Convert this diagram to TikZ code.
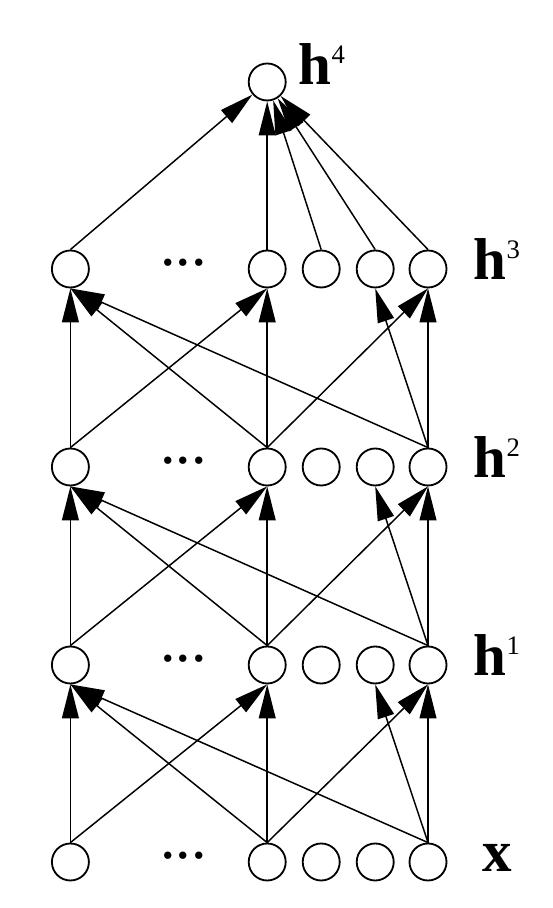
\documentclass[tikz,border=0pt]{standalone}
\usepackage{fontspec}
\setmainfont{Liberation Serif}
\usetikzlibrary{arrows.meta}

\newcommand{\hsup}[1]{h\raisebox{15.6pt}{\fontsize{19}{19}\mdseries\selectfont #1}}

\begin{document}
\begin{tikzpicture}[line width=1.05pt, >={Triangle[length=0.85cm, width=0.42cm]}]

  \tikzstyle{unit}=[draw, circle, line width=1.3pt, minimum size=0.925cm, inner sep=0pt]
  \tikzstyle{lab}=[inner sep=0pt, anchor=base west, font=\fontsize{42}{42}\selectfont\bfseries]
  \tikzstyle{dots}=[inner sep=0pt, anchor=base, font=\fontsize{44}{44}\selectfont]

  \useasboundingbox (0,0) rectangle (13.8,22.7);

  % input layer
  \node[unit] (x1) at (1.76,1.15) {};
  \node[unit] (x2) at (6.68,1.15) {};
  \node[unit] (x3) at (8.03,1.15) {};
  \node[unit] (x4) at (9.38,1.15) {};
  \node[unit] (x5) at (10.70,1.15) {};
  \node[dots] (dx) at (4.59,1.24) {...};
  \node[lab] (lx) at (12.05,0.9) {x};

  % first hidden layer
  \node[unit] (h11) at (1.76,6.075) {};
  \node[unit] (h12) at (6.68,6.075) {};
  \node[unit] (h13) at (8.03,6.075) {};
  \node[unit] (h14) at (9.38,6.075) {};
  \node[unit] (h15) at (10.70,6.075) {};
  \node[dots] (d1) at (4.59,6.165) {...};
  \node[lab] (l1) at (11.825,5.8) {\hsup{1}};

  % second hidden layer
  \node[unit] (h21) at (1.76,11.025) {};
  \node[unit] (h22) at (6.68,11.025) {};
  \node[unit] (h23) at (8.03,11.025) {};
  \node[unit] (h24) at (9.38,11.025) {};
  \node[unit] (h25) at (10.70,11.025) {};
  \node[dots] (d2) at (4.59,11.115) {...};
  \node[lab] (l2) at (11.825,10.75) {\hsup{2}};

  % third hidden layer
  \node[unit] (h31) at (1.76,15.975) {};
  \node[unit] (h32) at (6.68,15.975) {};
  \node[unit] (h33) at (8.03,15.975) {};
  \node[unit] (h34) at (9.38,15.975) {};
  \node[unit] (h35) at (10.70,15.975) {};
  \node[dots] (d3) at (4.59,16.065) {...};
  \node[lab] (l3) at (11.825,15.7) {\hsup{3}};

  % top unit
  \node[unit] (h4) at (6.68,20.65) {};
  \node[lab] (l4) at (7.45,20.575) {\hsup{4}};

  % x -> h1
  \draw[->] (x1.north) -- (h11.south);
  \draw[->] (x1.north) -- (h12.south);
  \draw[->] (x2.north) -- (h11.south);
  \draw[->] (x2.north) -- (h12.south);
  \draw[->] (x2.north) -- (h15.south);
  \draw[->] (x5.north) -- (h11.south);
  \draw[->] (x5.north) -- (h14.south);
  \draw[->] (x5.north) -- (h15.south);

  % h1 -> h2
  \draw[->] (h11.north) -- (h21.south);
  \draw[->] (h11.north) -- (h22.south);
  \draw[->] (h12.north) -- (h21.south);
  \draw[->] (h12.north) -- (h22.south);
  \draw[->] (h12.north) -- (h25.south);
  \draw[->] (h15.north) -- (h21.south);
  \draw[->] (h15.north) -- (h24.south);
  \draw[->] (h15.north) -- (h25.south);

  % h2 -> h3
  \draw[->] (h21.north) -- (h31.south);
  \draw[->] (h21.north) -- (h32.south);
  \draw[->] (h22.north) -- (h31.south);
  \draw[->] (h22.north) -- (h32.south);
  \draw[->] (h22.north) -- (h35.south);
  \draw[->] (h25.north) -- (h31.south);
  \draw[->] (h25.north) -- (h34.south);
  \draw[->] (h25.north) -- (h35.south);

  % h3 -> h4
  \draw[->] (h31.north) -- (h4);
  \draw[->] (h32.north) -- (h4);
  \draw[->] (h33.north) -- (h4);
  \draw[->] (h34.north) -- (h4);
  \draw[->] (h35.north) -- (h4);
\end{tikzpicture}
\end{document}
